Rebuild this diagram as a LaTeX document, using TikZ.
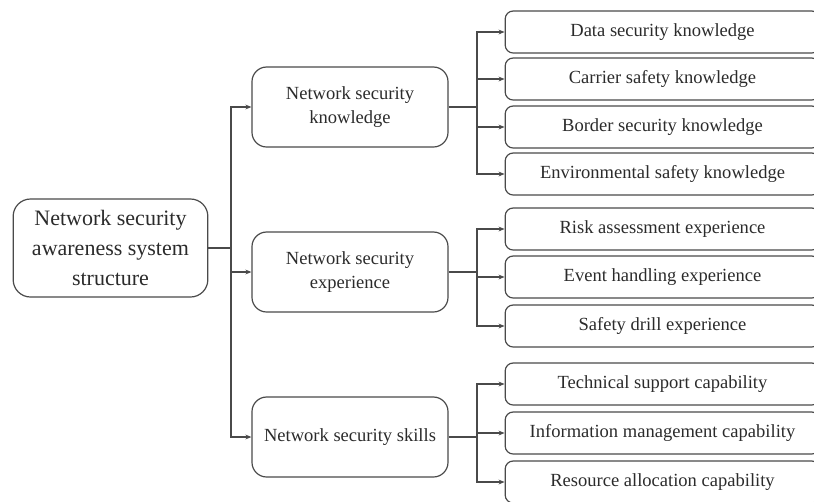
\documentclass[tikz,border=0pt]{standalone}
\usepackage{fontspec}
\setmainfont{Liberation Serif}
\usetikzlibrary{arrows.meta}
\definecolor{linegray}{HTML}{4A4A4A}
\definecolor{textgray}{HTML}{2B2B2B}
\begin{document}
\begin{tikzpicture}
  [
    x=0.75pt, y=-0.75pt,
    rootbox/.style =
      {draw=linegray, line width=0.9pt, rounded corners=13pt, align=center,
       inner sep=0pt, minimum width=146pt, minimum height=73.5pt,
       text=textgray, font=\fontsize{16.5}{22.5}\selectfont},
    midbox/.style =
      {draw=linegray, line width=0.9pt, rounded corners=11pt, align=center,
       inner sep=0pt, minimum width=147pt, minimum height=60pt,
       text=textgray, font=\fontsize{13.9}{17.5}\selectfont},
    leafbox/.style =
      {draw=linegray, line width=0.9pt, rounded corners=6pt, align=center,
       inner sep=0pt, minimum width=236pt, minimum height=31.5pt,
       text=textgray, font=\fontsize{13.9}{17}\selectfont},
    link/.style =
      {draw=linegray, line width=0.9pt},
    sarrow/.style =
      {link, -{Stealth[length=4.5pt, width=3.6pt]}}
  ]
  \useasboundingbox (0, 0) rectangle (814, 501);
  \clip (0, 0) rectangle (814, 501);

  \node [rootbox] at (110.5, 248)  (root) {Network security\\awareness system\\structure};

  \node [midbox]  at (350, 107)    (know) {Network security\\knowledge};
  \node [midbox]  at (350, 272)    (expe) {Network security\\experience};
  \node [midbox]  at (350, 437)    (skil) {Network security skills};

  \node [leafbox] at (662.5, 32)   (data) {Data security knowledge};
  \node [leafbox] at (662.5, 79)   (carr) {Carrier safety knowledge};
  \node [leafbox] at (662.5, 127)  (bord) {Border security knowledge};
  \node [leafbox] at (662.5, 174)  (envi) {Environmental safety knowledge};
  \node [leafbox] at (662.5, 229)  (risk) {Risk assessment experience};
  \node [leafbox] at (662.5, 277)  (even) {Event handling experience};
  \node [leafbox] at (662.5, 326)  (dril) {Safety drill experience};
  \node [leafbox] at (662.5, 384)  (tech) {Technical support capability};
  \node [leafbox] at (662.5, 433)  (info) {Information management capability};
  \node [leafbox] at (662.5, 482)  (reso) {Resource allocation capability};

  \coordinate (b1) at (231, 248);
  \coordinate (bk) at (477, 107);
  \coordinate (be) at (477, 272);
  \coordinate (bs) at (477, 437);

  \draw [link]   (root.east) -- (b1);
  \draw [sarrow] (b1) |- (know.west);
  \draw [sarrow] (b1) |- (expe.west);
  \draw [sarrow] (b1) |- (skil.west);

  \draw [link]   (know.east) -- (bk);
  \draw [sarrow] (bk) |- (data.west);
  \draw [sarrow] (bk) |- (carr.west);
  \draw [sarrow] (bk) |- (bord.west);
  \draw [sarrow] (bk) |- (envi.west);

  \draw [link]   (expe.east) -- (be);
  \draw [sarrow] (be) |- (risk.west);
  \draw [sarrow] (be) |- (even.west);
  \draw [sarrow] (be) |- (dril.west);

  \draw [link]   (skil.east) -- (bs);
  \draw [sarrow] (bs) |- (tech.west);
  \draw [sarrow] (bs) |- (info.west);
  \draw [sarrow] (bs) |- (reso.west);
\end{tikzpicture}
\end{document}
